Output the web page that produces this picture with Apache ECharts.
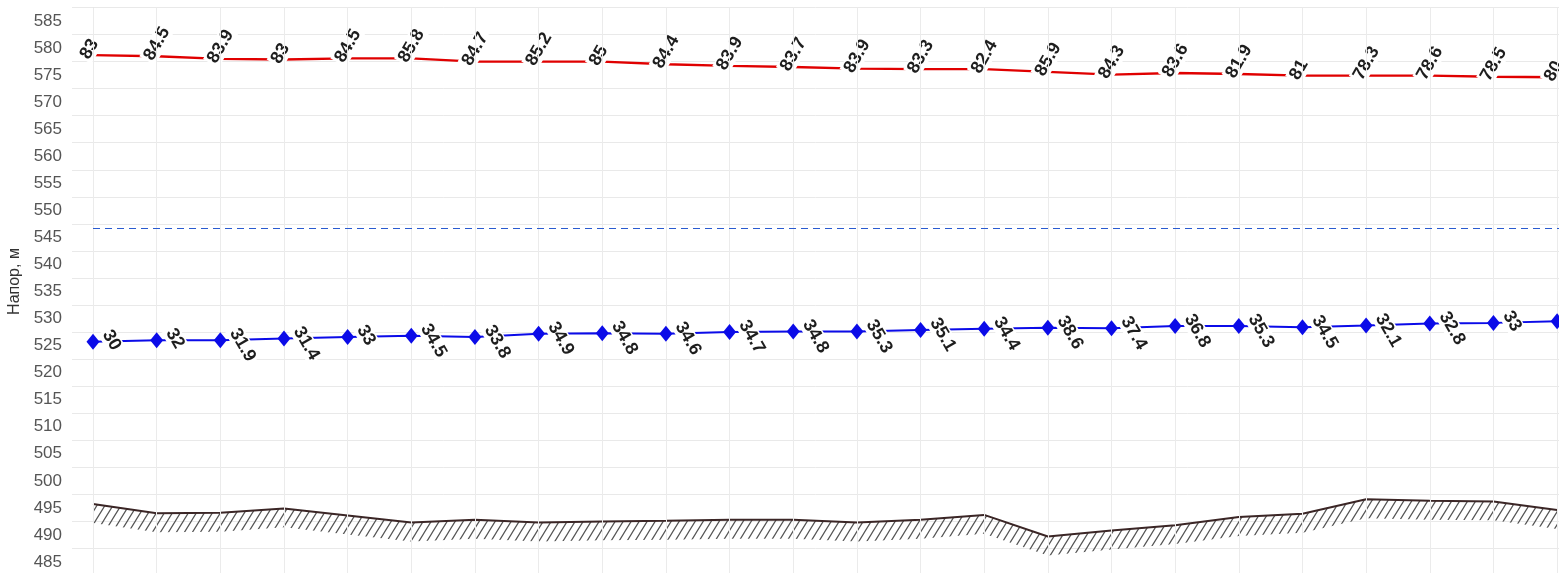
<!DOCTYPE html>
<html lang="ru">
<head>
<meta charset="utf-8">
<title>Профиль напоров</title>
<script src="https://cdn.jsdelivr.net/npm/echarts@6/dist/echarts.min.js"></script>
<style>
  html, body { margin: 0; padding: 0; background: #fff; }
  #chart { width: 1559px; height: 573px; }
</style>
</head>
<body>
<div id="chart"></div>
<script>
// Node numbers along the pipeline (x positions)
const nodes = [0, 1, 2, 3, 4, 5, 6, 7, 8, 9, 10, 11, 12, 13, 14, 15, 16, 17, 18, 19, 20, 21, 22, 23];

// Ground elevation at each node, m
const groundLevel = [495.7, 494.0, 494.1, 494.9, 493.6, 492.3, 492.8, 492.3, 492.5, 492.6, 492.8, 492.8,
                     492.3, 492.8, 493.7, 489.7, 490.8, 491.8, 493.3, 493.9, 496.6, 496.3, 496.2, 494.6];

// Pressure above ground for the upper (red) head line, m
const pressureUpper = [83, 84.5, 83.9, 83, 84.5, 85.8, 84.7, 85.2, 85, 84.4, 83.9, 83.7,
                       83.9, 83.3, 82.4, 85.9, 84.3, 83.6, 81.9, 81, 78.3, 78.6, 78.5, 80];

// Pressure above ground for the lower (blue) head line, m
const pressureLower = [30, 32, 31.9, 31.4, 33, 34.5, 33.8, 34.9, 34.8, 34.6, 34.7, 34.8,
                       35.3, 35.1, 34.4, 38.6, 37.4, 36.8, 35.3, 34.5, 32.1, 32.8, 33, 34.9];

// Reference level shown as a dashed line, m
const referenceLevel = 546.7;

// Y axis range and tick step
const yMin = 482.5, yMax = 587.5, yStep = 2.5;

// Depth of the hatched ground band, m
const hatchDepth = 3.5;

const xMin = -0.33, xMax = 23.03;

const groundLine = nodes.map(i => [i, groundLevel[i]]);
const upperHead = nodes.map(i => [i, +(groundLevel[i] + pressureUpper[i]).toFixed(2)]);
const lowerHead = nodes.map(i => [i, +(groundLevel[i] + pressureLower[i]).toFixed(2)]);

// Diagonal hatch tile for the ground band
function makeHatch() {
  const w = 8, h = 13;
  const c = document.createElement('canvas');
  c.width = w; c.height = h;
  const g = c.getContext('2d');
  g.strokeStyle = '#555555';
  g.lineWidth = 1.2;
  g.beginPath();
  g.moveTo(-w, 2 * h); g.lineTo(2 * w, -h);
  g.moveTo(0, 2 * h); g.lineTo(3 * w, -h);
  g.moveTo(-2 * w, 2 * h); g.lineTo(w, -h);
  g.stroke();
  return c;
}
const hatchPattern = { image: makeHatch(), repeat: 'repeat' };

// Hatched band under the ground line
function renderGroundHatch(params, api) {
  const top = nodes.map(i => api.coord([i, groundLevel[i]]));
  const bottom = nodes.map(i => api.coord([i, groundLevel[i] - hatchDepth])).reverse();
  return {
    type: 'polygon',
    shape: { points: top.concat(bottom) },
    style: { fill: hatchPattern, stroke: null }
  };
}

const FONT = 'Arial, "Liberation Sans", sans-serif';

const chart = echarts.init(document.getElementById('chart'), null, { renderer: 'canvas' });

chart.setOption({
  animation: false,
  backgroundColor: '#ffffff',
  grid: { left: 72, top: 7.5, width: 1487, height: 568, containLabel: false, outerBoundsMode: 'none' },
  xAxis: {
    type: 'value',
    min: xMin,
    max: xMax,
    axisLine: { show: false },
    axisTick: { show: false },
    axisLabel: { show: false },
    splitLine: { show: false }
  },
  yAxis: {
    type: 'value',
    min: yMin,
    max: yMax,
    interval: yStep,
    name: 'Напор, м',
    nameLocation: 'middle',
    nameRotate: 90,
    nameGap: 37,
    nameTextStyle: { fontFamily: FONT, fontSize: 16, color: '#333', padding: [0, 0, 0, 20] },
    axisLine: { show: true, lineStyle: { color: '#e2e2e2', width: 1 } },
    axisTick: { show: false },
    axisLabel: {
      margin: 10,
      fontFamily: FONT,
      fontSize: 17,
      color: '#555',
      formatter: v => (Math.abs(v % 5) < 1e-6 ? String(v) : '')
    },
    splitLine: { show: true, lineStyle: { color: ['#e9e9e9', 'rgba(0,0,0,0)'], width: 1 } }
  },
  series: [
    {
      // vertical grid at every node
      name: 'grid',
      type: 'line',
      data: [],
      z: 0,
      silent: true,
      markLine: {
        silent: true,
        symbol: ['none', 'none'],
        label: { show: false },
        lineStyle: { color: '#ebebeb', type: 'solid', width: 1 },
        data: nodes.map(i => ({ xAxis: i }))
      }
    },
    {
      name: 'level',
      type: 'line',
      data: [],
      z: 1,
      silent: true,
      markLine: {
        silent: true,
        symbol: ['none', 'none'],
        label: { show: false },
        lineStyle: { color: '#2a5bd0', type: [7, 5], width: 1.2 },
        data: [[{ coord: [nodes[0], referenceLevel] }, { coord: [xMax, referenceLevel] }]]
      }
    },
    {
      name: 'groundHatch',
      type: 'custom',
      data: [[0]],
      renderItem: renderGroundHatch,
      silent: true,
      clip: true,
      z: 2
    },
    {
      name: 'ground',
      type: 'line',
      data: groundLine,
      symbol: 'none',
      lineStyle: { color: '#3b2626', width: 2 },
      silent: true,
      z: 3
    },
    {
      name: 'upper',
      type: 'line',
      data: upperHead,
      symbol: 'circle',
      symbolSize: 1,
      itemStyle: { color: 'rgba(0,0,0,0)' },
      lineStyle: { color: '#e00000', width: 2.4 },
      z: 4,
      label: {
        show: true,
        position: [-9, 5],
        rotate: 60,
        align: 'left',
        verticalAlign: 'middle',
        fontFamily: FONT,
        fontSize: 18,
        fontWeight: 'bold',
        color: '#1e1e1e',
        backgroundColor: '#ffffff',
        padding: [0, 2, 0, 2],
        formatter: p => String(pressureUpper[p.dataIndex])
      }
    },
    {
      name: 'lower',
      type: 'line',
      data: lowerHead,
      symbol: 'diamond',
      symbolSize: [13, 16],
      itemStyle: { color: '#0b0be8' },
      lineStyle: { color: '#0b0be8', width: 2 },
      z: 5,
      label: {
        show: true,
        position: [19, -4],
        rotate: -60,
        align: 'left',
        verticalAlign: 'middle',
        fontFamily: FONT,
        fontSize: 18,
        fontWeight: 'bold',
        color: '#1e1e1e',
        backgroundColor: '#ffffff',
        padding: [0, 2, 0, 2],
        formatter: p => String(pressureLower[p.dataIndex])
      }
    }
  ]
});
</script>
</body>
</html>
